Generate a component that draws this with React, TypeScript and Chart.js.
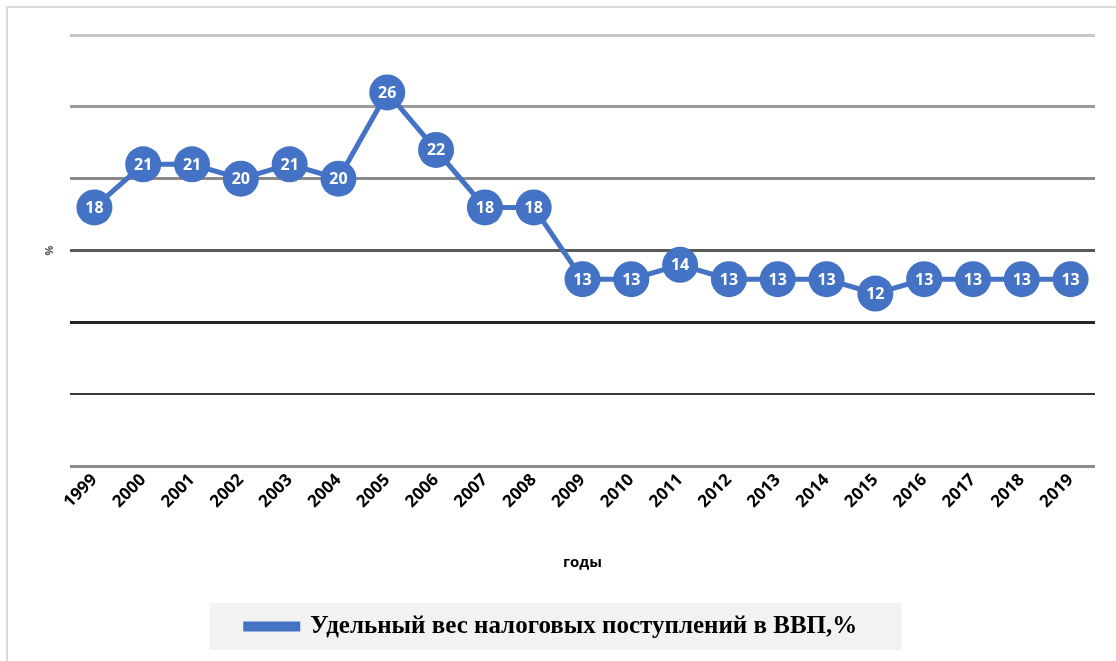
import React, { useEffect, useRef } from "react";
import { Chart, registerables } from "chart.js";

Chart.register(...registerables);

const years: string[] = [
  "1999", "2000", "2001", "2002", "2003", "2004", "2005", "2006", "2007", "2008",
  "2009", "2010", "2011", "2012", "2013", "2014", "2015", "2016", "2017", "2018", "2019",
];
const taxShare: number[] = [18, 21, 21, 20, 21, 20, 26, 22, 18, 18, 13, 13, 14, 13, 13, 13, 12, 13, 13, 13, 13];
const seriesLabel = "Удельный вес налоговых поступлений в ВВП,%";
const yMin = 0;
const yMax = 30;
const yStep = 5;

const BLUE = "#4472C4";

const gridColors: Record<number, string> = {
  30: "#c8c8c8",
  25: "#9a9a9a",
  20: "#8a8a8a",
  15: "#5a5a5a",
  10: "#262626",
  5: "#3a3a3a",
  0: "#8c8c8c",
};

const valueLabels = {
  id: "valueLabels",
  afterDatasetsDraw(chart: any) {
    const ctx = chart.ctx;
    const meta = chart.getDatasetMeta(0);
    const data = chart.data.datasets[0].data as number[];
    ctx.save();
    ctx.fillStyle = "#ffffff";
    ctx.font = "bold 16px 'Open Sans', 'Liberation Sans', sans-serif";
    ctx.textAlign = "center";
    ctx.textBaseline = "middle";
    meta.data.forEach((pt: any, i: number) => {
      ctx.fillText(String(data[i]), pt.x, pt.y + 1);
    });
    ctx.restore();
  },
};

const legendBox = {
  id: "legendBox",
  beforeDraw(chart: any) {
    const lg = chart.legend;
    if (!lg || !lg.legendHitBoxes || !lg.legendHitBoxes.length) return;
    const hb = lg.legendHitBoxes[0];
    const cx = hb.left + hb.width / 2;
    const cy = hb.top + hb.height / 2;
    const w = 692;
    const h = 47;
    const ctx = chart.ctx;
    ctx.save();
    ctx.fillStyle = "#f2f2f2";
    ctx.fillRect(cx - w / 2 + 4, cy - h / 2, w, h);
    ctx.restore();
  },
};

export default function App() {
  const ref = useRef<HTMLCanvasElement | null>(null);

  useEffect(() => {
    if (!ref.current) return;
    const chart = new Chart(ref.current, {
      type: "line",
      data: {
        labels: years,
        datasets: [
          {
            label: seriesLabel,
            data: taxShare,
            borderColor: BLUE,
            backgroundColor: BLUE,
            borderWidth: 5,
            pointRadius: 18,
            pointHoverRadius: 18,
            pointBackgroundColor: BLUE,
            pointBorderColor: BLUE,
            pointBorderWidth: 0,
            fill: false,
            tension: 0,
          },
        ],
      },
      options: {
        animation: false,
        responsive: false,
        maintainAspectRatio: false,
        layout: { padding: { left: 8, right: 21, top: 35, bottom: 12 } },
        scales: {
          x: {
            offset: true,
            afterFit: (s: any) => {
              s.height = 136;
            },
            grid: { display: false, drawTicks: false },
            border: { display: false },
            ticks: {
              color: "#000000",
              font: { family: "'Open Sans', 'Liberation Sans', sans-serif", size: 17, weight: "bold" },
              maxRotation: 45,
              minRotation: 45,
              padding: 4,
            },
            title: {
              display: true,
              text: "годы",
              color: "#000000",
              font: { family: "'Open Sans', 'Liberation Sans', sans-serif", size: 15, weight: "bold" },
              padding: { top: 6, bottom: 30 },
            },
          },
          y: {
            min: yMin,
            max: yMax,
            afterFit: (s: any) => {
              s.width = 62;
            },
            ticks: { display: false, stepSize: yStep },
            border: { display: false },
            grid: {
              drawTicks: false,
              color: (c: any) => gridColors[c.tick?.value] ?? "#888888",
              lineWidth: (c: any) => (c.tick?.value === 5 ? 2 : 3),
            },
            title: {
              display: true,
              text: "%",
              color: "#555555",
              font: { family: "'Open Sans', 'Liberation Sans', sans-serif", size: 11, weight: "bold" },
              padding: { top: 35, bottom: 0 },
            },
          },
        },
        plugins: {
          legend: {
            position: "bottom",
            labels: {
              color: "#000000",
              font: { family: "'Liberation Serif', 'DejaVu Serif', serif", size: 25, weight: "bold" },
              boxWidth: 52,
              boxHeight: 5,
              padding: 12,
            },
          },
          tooltip: { enabled: false },
        },
      },
      plugins: [valueLabels, legendBox],
    });
    return () => chart.destroy();
  }, []);

  return (
    <div style={{ position: "absolute", left: 0, top: 0, width: 1116, height: 661, background: "#ffffff", overflow: "hidden" }}>
      <div
        style={{
          position: "absolute",
          left: 6,
          top: 6,
          width: 1200,
          height: 700,
          borderTop: "2px solid #d9d9d9",
          borderLeft: "2px solid #d9d9d9",
        }}
      />
      <canvas ref={ref} width={1116} height={661} style={{ position: "absolute", left: 0, top: 0 }} />
    </div>
  );
}
